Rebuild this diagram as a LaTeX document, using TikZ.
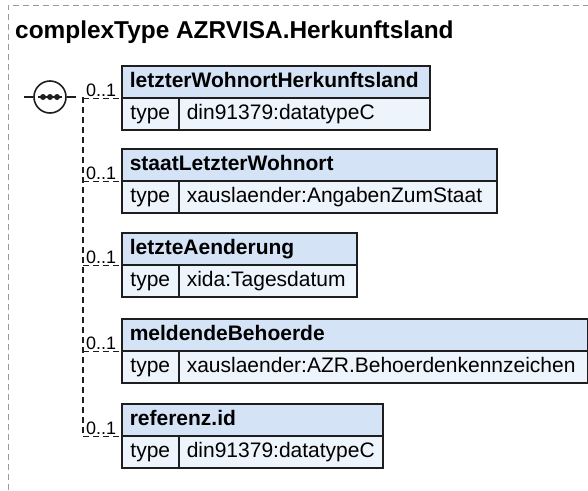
\documentclass[tikz,border=0pt]{standalone}
\usepackage{fontspec}
\setmainfont{Liberation Sans}
\definecolor{hdrfill}{HTML}{D5E3F6}
\definecolor{valfill}{HTML}{EEF4FC}
\definecolor{boxline}{HTML}{1E1E1E}
\definecolor{framegray}{HTML}{9A9A9A}
\tikzset{
  boxtext/.style={draw=boxline, line width=1.6pt, anchor=north west, minimum height=32pt,
    inner xsep=8pt, inner ysep=0pt, text height=15pt, text depth=4.5pt},
  hdr/.style={boxtext, fill=hdrfill, font=\bfseries\fontsize{21}{24}\selectfont, align=left},
  typecell/.style={boxtext, fill=valfill, font=\fontsize{21}{24}\selectfont, minimum width=57pt, inner xsep=0pt},
  valcell/.style={boxtext, fill=valfill, font=\fontsize{21}{24}\selectfont, align=left},
  dconn/.style={draw=boxline, line width=1.6pt, dash pattern=on 6pt off 4pt},
  sconn/.style={draw=boxline, line width=1.6pt},
  mult/.style={font=\fontsize{18}{20}\selectfont, inner sep=0pt, anchor=base west},
  frameline/.style={draw=framegray, line width=1pt, dash pattern=on 6pt off 4pt},
}
\begin{document}
\begin{tikzpicture}[x=1pt,y=-1pt]
\useasboundingbox (0,0) rectangle (588,490);
\draw[frameline] (8,490) -- (8,5) -- (588,5);
\node[anchor=base west, font=\bfseries\fontsize{24.4}{28}\selectfont, inner sep=0pt] (title) at (15,38) {complexType AZRVISA.Herkunftsland};
% sequence compositor
\node[circle, draw=boxline, line width=1.6pt, minimum size=32pt, inner sep=0pt, fill=white] (seq) at (50,97) {};
\draw[sconn] ([xshift=-12pt]seq.center) -- ([xshift=12pt]seq.center);
\foreach \dx in {-7,0,7} \fill[boxline] ([xshift=\dx pt]seq.center) circle (3pt);
\draw[sconn] (seq.west) -- ++(-9,0);
\draw[sconn] (seq.east) -- ++(9,0);
\coordinate (jn) at (83,97);
% boxes
\foreach \t/\r/\n/\v/\i in {
  65/429/letzterWohnortHerkunftsland/din91379:datatypeC/1,
  148/496/staatLetzterWohnort/xauslaender:AngabenZumStaat/2,
  232/356/letzteAenderung/xida:Tagesdatum/3,
  318/587/meldendeBehoerde/xauslaender:AZR.Behoerdenkennzeichen/4,
  403/382/referenz.id/din91379:datatypeC/5}{
  \pgfmathsetmacro\hw{\r-121-16}
  \pgfmathsetmacro\vw{\r-178-16}
  \node[hdr, text width=\hw pt] (h\i) at (121,\t) {\n};
  \node[typecell] (ty\i) at (121,\t+32) {type};
  \node[valcell, text width=\vw pt] (v\i) at (178,\t+32) {\v};
}
\draw[dconn] (jn) -- (jn |- h5.south west);
\foreach \i in {1,...,5}{
  \draw[dconn] (jn |- h\i.south west) -- (h\i.south west);
  \node[mult, xshift=3pt, yshift=2.5pt] (m\i) at (jn |- h\i.south west) {0..1};
}
\end{tikzpicture}
\end{document}
